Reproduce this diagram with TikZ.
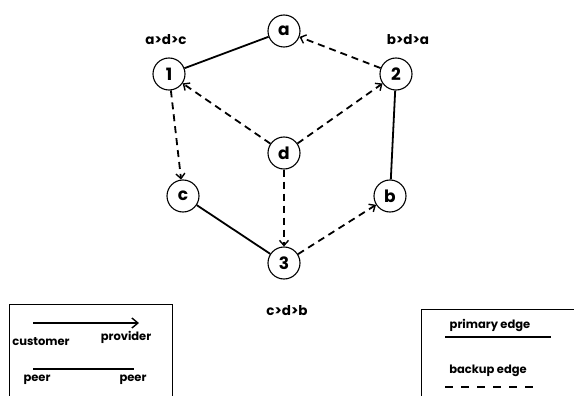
\documentclass[tikz,border=0pt]{standalone}
\usepackage{fontspec}
\setmainfont{Poppins}
\usetikzlibrary{arrows.meta}
\begin{document}
\begin{tikzpicture}[x=1pt,y=-1pt,
  rnode/.style={circle,draw,line width=1.1pt,minimum size=32pt,inner sep=0pt,font=\fontsize{17}{17}\selectfont\bfseries},
  lbl/.style={font=\fontsize{11.5}{11.5}\selectfont\bfseries,inner sep=0pt},
  toplbl/.style={font=\fontsize{13.5}{13.5}\selectfont\bfseries,inner sep=0pt},
  prim/.style={line width=1.8pt},
  bkp/.style={line width=1.8pt,dash pattern=on 7pt off 5pt},
  arr/.style={-{Straight Barb[length=5pt,width=9pt,line width=1.4pt]}},
  legbox/.style={line width=0.9pt}]
\useasboundingbox (0,0) rectangle (574,396);
\node[rnode] (a) at (284,31) {a};
\node[rnode] (n1) at (169,74) {1};
\node[rnode] (n2) at (396,74) {2};
\node[rnode] (d) at (284,153) {d};
\node[rnode] (c) at (183,196) {c};
\node[rnode] (b) at (390,196) {b};
\node[rnode] (n3) at (284,263) {3};
\node[toplbl] (l1) at (166,40) {a>d>c};
\node[toplbl] (l2) at (408,40) {b>d>a};
\node[toplbl] (l3) at (287,311) {c>d>b};
\draw[prim] (a) -- (n1);
\draw[prim] (n2) -- (b);
\draw[prim] (c) -- (n3);
\draw[bkp,arr] (n2) -- (a);
\draw[bkp,arr] (d) -- (n1);
\draw[bkp,arr] (d) -- (n2);
\draw[bkp,arr] (n1) -- (c);
\draw[bkp,arr] (d) -- (n3);
\draw[bkp,arr] (n3) -- (b);
% legend left
\coordinate (L1) at (9,397);
\coordinate (L2) at (9,304);
\coordinate (L3) at (172,304);
\coordinate (L4) at (172,397);
\draw[legbox] (L1) -- (L2) -- (L3) -- (L4);
\coordinate (ca) at (33,323);
\coordinate (cb) at (139,323);
\draw[line width=1.4pt,-{Straight Barb[length=6pt,width=10pt,line width=1.4pt]}] (ca) -- (cb);
\node[lbl] (cust) at (41,342) {customer};
\node[lbl] (prov) at (126,337) {provider};
\coordinate (pa) at (33,369);
\coordinate (pb) at (134,369);
\draw[line width=2.2pt] (pa) -- (pb);
\node[lbl] (p1) at (37,380) {peer};
\node[lbl] (p2) at (133,380) {peer};
% legend right
\coordinate (R1) at (421,397);
\coordinate (R2) at (421,309);
\coordinate (R3) at (575,309);
\draw[legbox] (R1) -- (R2) -- (R3);
\node[lbl] (pe) at (490,325) {primary edge};
\coordinate (ra) at (445,337);
\coordinate (rb) at (551,337);
\draw[line width=1.8pt] (ra) -- (rb);
\node[lbl] (be) at (488,371) {backup edge};
\coordinate (rc) at (445,387);
\coordinate (rd) at (540,387);
\draw[line width=1.8pt,dash pattern=on 8pt off 8pt] (rc) -- (rd);
\end{tikzpicture}
\end{document}
